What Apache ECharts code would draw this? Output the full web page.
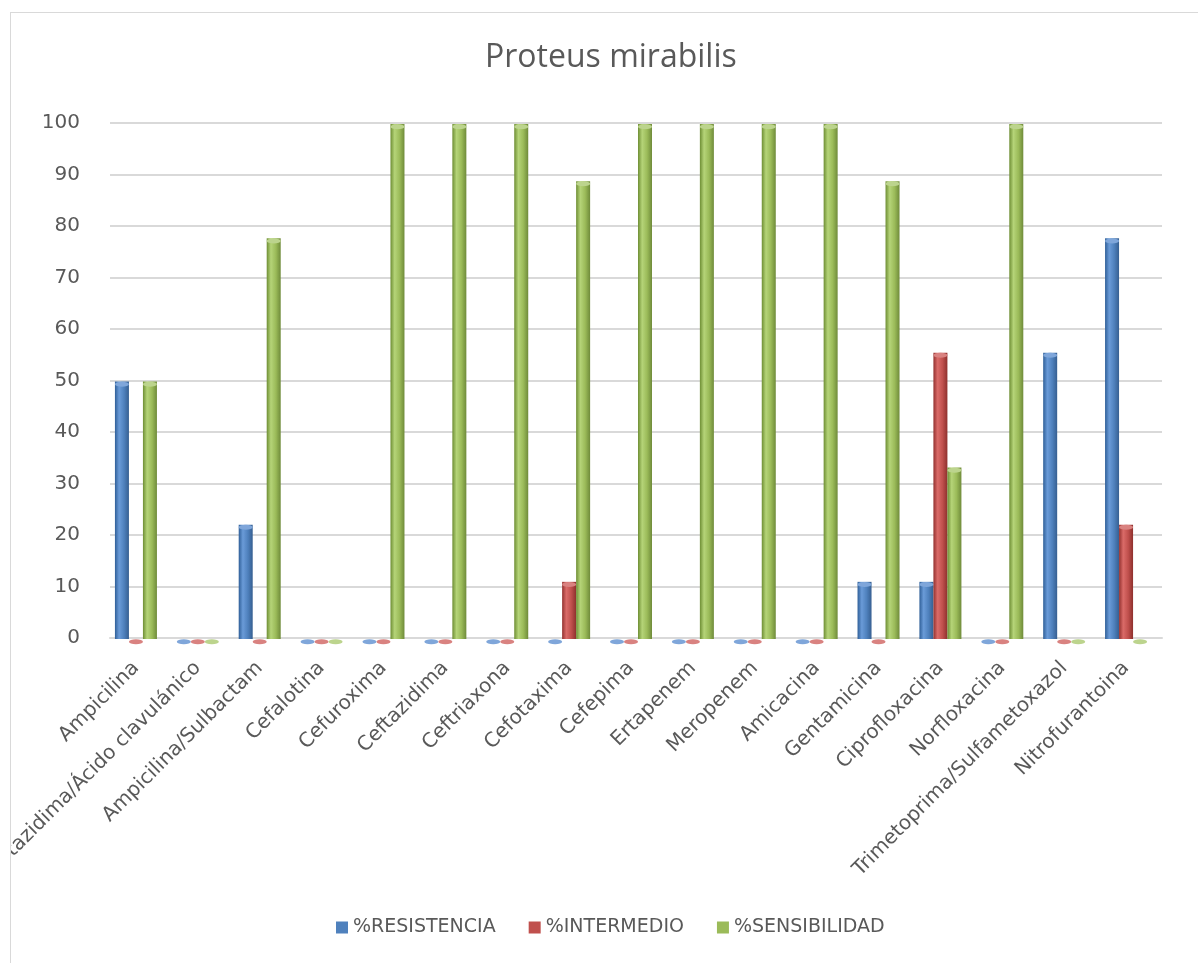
<!DOCTYPE html>
<html>
<head>
<meta charset="utf-8">
<script src="https://cdn.jsdelivr.net/npm/echarts@6/dist/echarts.min.js"></script>
<style>
  html, body { margin: 0; padding: 0; background: #ffffff; }
  #frame {
    position: absolute; left: 10px; top: 12px;
    width: 1188px; height: 951px;
    border-left: 1px solid #d9d9d9; border-top: 1px solid #d9d9d9;
    box-sizing: border-box; overflow: hidden;
  }
  #chart { width: 1187px; height: 950px; }
</style>
</head>
<body>
<div id="frame"><div id="chart"></div></div>
<script>
// Antibiotic susceptibility of Proteus mirabilis (percent of isolates)
const categories = [
  'Ampicilina', 'Ceftazidima/Ácido clavulánico', 'Ampicilina/Sulbactam', 'Cefalotina',
  'Cefuroxima', 'Ceftazidima', 'Ceftriaxona', 'Cefotaxima', 'Cefepima', 'Ertapenem',
  'Meropenem', 'Amicacina', 'Gentamicina', 'Ciprofloxacina', 'Norfloxacina',
  'Trimetoprima/Sulfametoxazol', 'Nitrofurantoina'
];
const resistencia  = [50, 0, 22.2, 0, 0, 0, 0, 0, 0, 0, 0, 0, 11.1, 11.1, 0, 55.6, 77.8];
const intermedio   = [0, 0, 0, 0, 0, 0, 0, 11.1, 0, 0, 0, 0, 0, 55.6, 0, 0, 22.2];
const sensibilidad = [50, 0, 77.8, 0, 100, 100, 100, 88.9, 100, 100, 100, 100, 88.9, 33.3, 100, 0, 0];
const seriesNames = ['%RESISTENCIA', '%INTERMEDIO', '%SENSIBILIDAD'];
const yTicks = { min: 0, max: 100, interval: 10 };

// Cylinder shading per series: dark edge, highlight, base, dark edge; plus cap tint
const palette = [
  { base: '#4F81BD', shade: ['#2F5F98', '#6A9BD8', '#4F81BD', '#365F91'], cap: '#7FA6DA' },
  { base: '#C0504D', shade: ['#93312F', '#DA6B68', '#C0504D', '#8E302D'], cap: '#D98280' },
  { base: '#9BBB59', shade: ['#6E8E34', '#B5D478', '#9BBB59', '#6F8B3A'], cap: '#BCD48D' }
];

function cylinder(p) {
  return {
    type: 'linear', x: 0, y: 0, x2: 1, y2: 0,
    colorStops: [
      { offset: 0, color: p.shade[0] },
      { offset: 0.3, color: p.shade[1] },
      { offset: 0.65, color: p.shade[2] },
      { offset: 1, color: p.shade[3] }
    ]
  };
}

const dataSets = [resistencia, intermedio, sensibilidad];
const series = [];
// Bars sit on the front plane (grid 1), slightly left of the back wall gridlines
dataSets.forEach((vals, i) => {
  series.push({
    name: seriesNames[i], type: 'bar', data: vals,
    xAxisIndex: 1, yAxisIndex: 1,
    barWidth: 14, barGap: '0%', z: 2,
    itemStyle: { color: cylinder(palette[i]) }
  });
});
// Elliptical caps on top of each cylinder (also the flat discs for zero values)
dataSets.forEach((vals, i) => {
  series.push({
    name: 'cap' + i, type: 'pictorialBar', data: vals,
    xAxisIndex: 1, yAxisIndex: 1,
    barWidth: 14, barGap: '0%', z: 3,
    symbol: 'circle', symbolSize: [14, 5], symbolPosition: 'end',
    itemStyle: { color: palette[i].cap, borderColor: palette[i].shade[3], borderWidth: 0.6 },
    silent: true
  });
});

const labelFont = 'DejaVu Sans';
const chart = echarts.init(document.getElementById('chart'));
chart.setOption({
  backgroundColor: '#ffffff',
  animation: false,
  title: {
    text: 'Proteus mirabilis', left: 469, top: 24,
    textStyle: { fontFamily: 'Open Sans', fontSize: 32, fontWeight: 'normal', color: '#595959' }
  },
  legend: {
    data: seriesNames.map((n, i) => ({ name: n, itemStyle: { color: palette[i].base } })),
    bottom: 21, left: 320, icon: 'rect', itemWidth: 12, itemHeight: 12, itemGap: 33,
    textStyle: { fontFamily: labelFont, fontSize: 19, color: '#595959' }
  },
  grid: [
    { left: 99, right: 36, top: 110, bottom: 325, containLabel: false, outerBoundsMode: 'none' },
    { left: 94, right: 41, top: 111, bottom: 324, containLabel: false, outerBoundsMode: 'none' }
  ],
  xAxis: [{
    type: 'category', data: categories, gridIndex: 0,
    axisLine: { show: true, lineStyle: { color: '#d9d9d9', width: 2 } },
    axisTick: { show: false },
    axisLabel: { show: false }
  }, {
    type: 'category', data: categories, gridIndex: 1,
    axisLine: { show: false }, axisTick: { show: false }, splitLine: { show: false },
    axisLabel: {
      interval: 0, rotate: 45, margin: 26,
      fontFamily: labelFont, fontSize: 20, color: '#595959'
    }
  }],
  yAxis: [{
    type: 'value', min: yTicks.min, max: yTicks.max, interval: yTicks.interval, gridIndex: 0,
    axisLine: { show: false }, axisTick: { show: false },
    splitLine: { lineStyle: { color: '#d9d9d9', width: 2 } },
    axisLabel: { margin: 30, fontFamily: labelFont, fontSize: 20, color: '#595959' }
  }, {
    type: 'value', min: yTicks.min, max: yTicks.max, interval: yTicks.interval, gridIndex: 1,
    show: false, splitLine: { show: false }
  }],
  series: series
});
</script>
</body>
</html>
